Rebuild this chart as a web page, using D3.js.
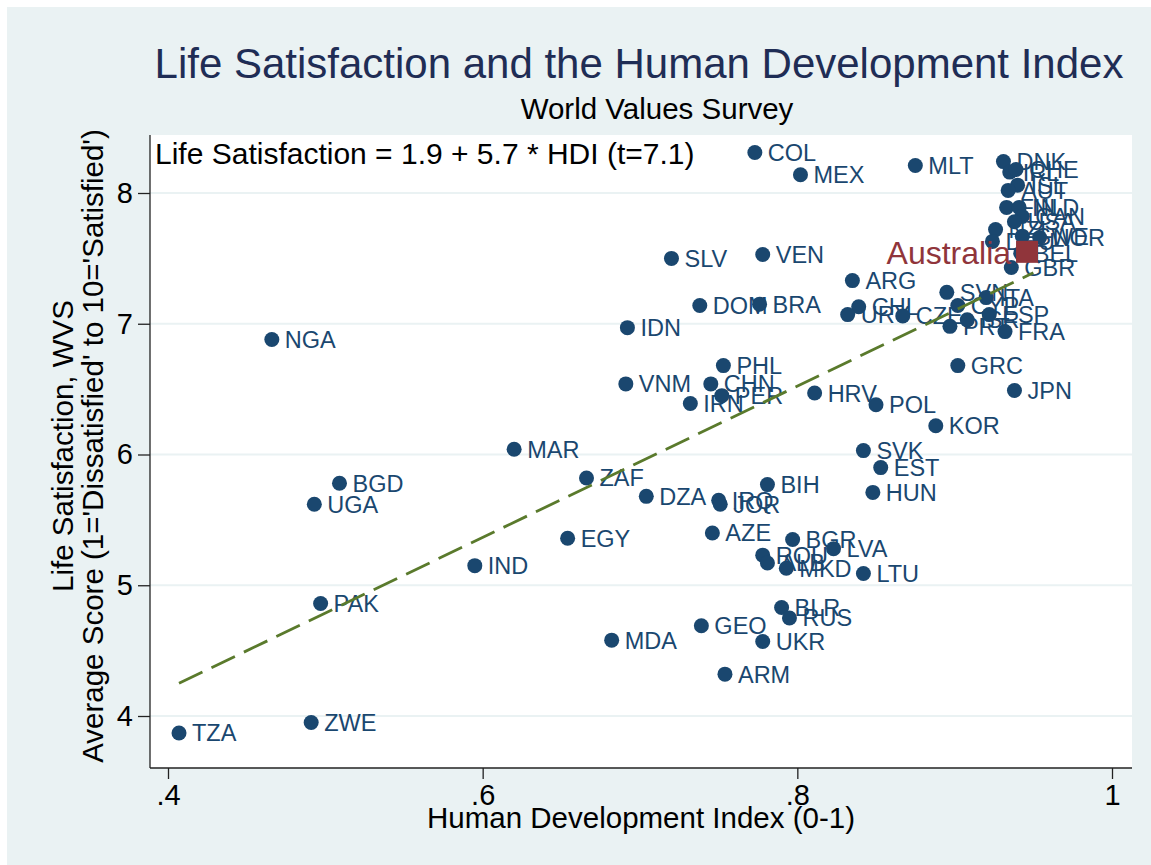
<!DOCTYPE html>
<meta charset="utf-8">
<head>
  <title>Life Satisfaction and HDI</title>
  <script src="https://cdnjs.cloudflare.com/ajax/libs/d3/7.8.5/d3.min.js"></script>
</head>
<style>
body { margin: 0; background: #ffffff; }
svg { font-family: "Liberation Sans", Arial, sans-serif; }
</style>
<body>
<svg id="chart" width="1151" height="865"></svg>
<script>
// country codes, HDI and WVS life satisfaction
var countries = ["COL","MEX","MLT","DNK","IRL","CHE","ISL","AUT","FIN","NLD","CAN","USA","NZL","SWE","NOR","DEU","BEL",
  "GBR","ARG","SVN","CYP","ITA","ESP","ISR","PRT","FRA","CZE","CHL","URY","SLV","VEN","DOM","BRA","IDN","NGA",
  "PHL","VNM","CHN","PER","IRN","HRV","POL","KOR","GRC","JPN","SVK","EST","HUN","MAR","ZAF","BGD","UGA","DZA",
  "IRQ","JOR","BIH","EGY","AZE","BGR","LVA","ROU","ALB","MKD","LTU","IND","PAK","BLR","RUS","GEO","UKR","MDA",
  "ARM","TZA","ZWE"];
var hdi = [0.773,0.802,0.875,0.931,0.935,0.939,0.940,0.934,0.933,0.941,0.943,0.938,0.926,0.943,0.954,0.924,0.942,
  0.936,0.835,0.895,0.902,0.920,0.922,0.908,0.897,0.932,0.867,0.839,0.832,0.720,0.778,0.738,0.776,0.692,0.466,
  0.753,0.691,0.745,0.752,0.732,0.811,0.850,0.888,0.902,0.938,0.842,0.853,0.848,0.620,0.666,0.509,0.493,0.704,
  0.750,0.751,0.781,0.654,0.746,0.797,0.823,0.778,0.781,0.793,0.842,0.595,0.497,0.790,0.795,0.739,0.778,0.682,
  0.754,0.407,0.491];
var lifeSat = [8.31,8.14,8.21,8.24,8.16,8.18,8.06,8.02,7.89,7.89,7.82,7.78,7.72,7.67,7.66,7.63,7.54,
  7.43,7.33,7.24,7.14,7.20,7.07,7.03,6.98,6.94,7.06,7.13,7.07,7.50,7.53,7.14,7.15,6.97,6.88,
  6.68,6.54,6.54,6.45,6.39,6.47,6.38,6.22,6.68,6.49,6.03,5.90,5.71,6.04,5.82,5.78,5.62,5.68,
  5.65,5.62,5.77,5.36,5.40,5.35,5.28,5.23,5.17,5.13,5.09,5.15,4.86,4.83,4.75,4.69,4.57,4.58,
  4.32,3.87,3.95];

// highlighted country
var highlightName = ["Australia"];
var highlightHdi = [0.946];
var highlightSat = [7.55];

// fitted line end points
var fitHdi = [0.407, 0.950];
var fitSat = [4.25, 7.39];

var xTicks = [0.4, 0.6, 0.8, 1];
var xTickLabels = [".4", ".6", ".8", "1"];
var yTicks = [4, 5, 6, 7, 8];

var navy = "#1a476f", maroon = "#90353b", green = "#5a7a2c", bg = "#eaf2f3";

var svg = d3.select("#chart");

// outer graph region
svg.append("rect").attr("x", 7).attr("y", 7).attr("width", 1144).attr("height", 858).attr("fill", bg);

var plotL = 150, plotR = 1132, plotT = 135, plotB = 768;
var x = d3.scaleLinear().domain([0.4, 1]).range([168, 1112]);
var y = d3.scaleLinear().domain([4, 8]).range([716, 193]);

svg.append("rect").attr("x", plotL).attr("y", plotT)
  .attr("width", plotR - plotL).attr("height", plotB - plotT).attr("fill", "#ffffff");

// horizontal grid
svg.selectAll(".grid").data(yTicks).enter().append("line")
  .attr("class", "grid")
  .attr("x1", plotL).attr("x2", plotR)
  .attr("y1", function(d){ return y(d); }).attr("y2", function(d){ return y(d); })
  .attr("stroke", bg).attr("stroke-width", 2);

// axes
var xAxis = svg.append("g").attr("transform", "translate(0," + plotB + ")")
  .call(d3.axisBottom(x).tickValues(xTicks).tickSize(11).tickPadding(5)
    .tickFormat(function(d, i){ return xTickLabels[i]; }));
var yAxis = svg.append("g").attr("transform", "translate(" + plotL + ",0)")
  .call(d3.axisLeft(y).tickValues(yTicks).tickSize(12).tickPadding(5).tickFormat(d3.format("d")));

[xAxis, yAxis].forEach(function(a){
  a.select(".domain").remove();
  a.selectAll("line").attr("stroke", "#222").attr("stroke-width", 1.3);
  a.selectAll("text").attr("fill", "#000").style("font-size", "29px")
    .style("font-family", "'Liberation Sans', Arial, sans-serif");
});
xAxis.selectAll("text").attr("dy", "0.72em");
svg.append("line").attr("x1", plotL).attr("x2", plotL).attr("y1", plotT).attr("y2", plotB)
  .attr("stroke", "#222").attr("stroke-width", 1.3);
svg.append("line").attr("x1", plotL).attr("x2", plotR).attr("y1", plotB).attr("y2", plotB)
  .attr("stroke", "#222").attr("stroke-width", 1.3);

var pts = countries.map(function(c, i){ return {name: c, hdi: hdi[i], sat: lifeSat[i]}; });

// labels first, then markers on top
svg.selectAll(".lab").data(pts).enter().append("text")
  .attr("class", "lab")
  .attr("x", function(d){ return x(d.hdi) + 13; })
  .attr("y", function(d){ return y(d.sat); })
  .attr("dy", "0.36em")
  .attr("fill", navy)
  .style("font-size", "23.5px")
  .text(function(d){ return d.name; });

svg.selectAll(".dot").data(pts).enter().append("circle")
  .attr("class", "dot")
  .attr("cx", function(d){ return x(d.hdi); })
  .attr("cy", function(d){ return y(d.sat); })
  .attr("r", 7.5)
  .attr("fill", navy);

// fitted line
svg.append("path")
  .datum(fitHdi.map(function(h, i){ return [h, fitSat[i]]; }))
  .attr("d", d3.line().x(function(d){ return x(d[0]); }).y(function(d){ return y(d[1]); }))
  .attr("fill", "none").attr("stroke", green).attr("stroke-width", 2.8)
  .attr("stroke-dasharray", "26,10");

// highlighted country
highlightName.forEach(function(n, i){
  var cx = x(highlightHdi[i]), cy = y(highlightSat[i]);
  svg.append("rect").attr("x", cx - 11).attr("y", cy - 11).attr("width", 22).attr("height", 22)
    .attr("fill", maroon);
  svg.append("text").attr("x", cx - 16).attr("y", cy).attr("dy", "0.38em")
    .attr("text-anchor", "end").attr("fill", maroon).style("font-size", "32px").text(n);
});

// regression note
svg.append("text").attr("x", 155).attr("y", 164).attr("fill", "#000")
  .style("font-size", "30px").text("Life Satisfaction = 1.9 + 5.7 * HDI (t=7.1)");

// titles
svg.append("text").attr("x", 639).attr("y", 78).attr("text-anchor", "middle")
  .attr("fill", "#1f2d55").style("font-size", "42px")
  .text("Life Satisfaction and the Human Development Index");
svg.append("text").attr("x", 657).attr("y", 119).attr("text-anchor", "middle")
  .attr("fill", "#000").style("font-size", "29.5px").text("World Values Survey");
svg.append("text").attr("x", 641).attr("y", 828).attr("text-anchor", "middle")
  .attr("fill", "#000").style("font-size", "29.5px").text("Human Development Index (0-1)");

var yt = svg.append("g").attr("transform", "translate(0,446) rotate(-90)");
yt.append("text").attr("x", 0).attr("y", 73).attr("text-anchor", "middle")
  .attr("fill", "#000").style("font-size", "29.5px").text("Life Satisfaction, WVS");
yt.append("text").attr("x", 0).attr("y", 103).attr("text-anchor", "middle")
  .attr("fill", "#000").style("font-size", "29.5px")
  .text("Average Score (1='Dissatisfied' to 10='Satisfied')");
</script>
</body>
</html>
